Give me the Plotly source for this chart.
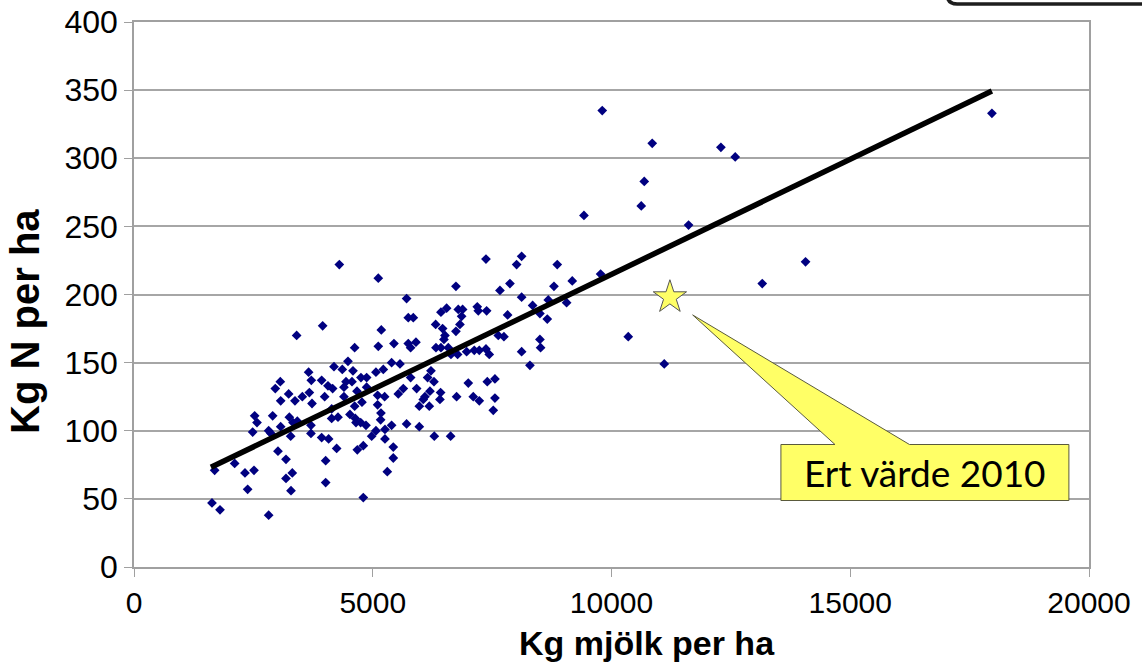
import plotly.graph_objects as go

# Farm data: kg milk per ha (x) and kg N per ha (y)
milk_kg = [
    4300, 5116, 3951, 3406, 5179, 5116, 4621, 4481, 4188, 4362, 4586, 3657, 5067, 5221,
    3064, 2959, 3713, 3930, 4062, 4160, 4440, 4565, 4753, 4872, 4397, 3239, 3072, 3371,
    3525, 3672, 3728, 3993, 4397, 4670, 4872, 5102, 5102, 5249, 4621, 4774, 2527, 2576,
    2904, 3253, 3330, 3420, 3072, 2485, 2820, 2869, 3281, 3706, 3706, 4139, 4272, 4523,
    4635, 4649, 4747, 4858, 5067, 4977, 5165, 5256, 3930, 4076, 4244, 4677, 4802, 3015,
    3183, 4014, 2108, 2324, 2513, 1689, 3315, 3183, 2380, 3288, 4014, 5305, 4802, 1633,
    1801, 2820, 4140,
    7371, 8118, 8013, 8864, 6742, 7873, 7664, 8795, 9178, 5709, 8118, 8348, 8676, 9060,
    6547, 6428, 6791, 6882, 7189, 7210, 7385, 7824, 8501, 8655, 5744, 5849, 6317, 6861,
    6826, 6742, 6463, 6512, 6491, 5444, 5744, 5905, 5793, 7629, 7747, 8501, 8515, 8118,
    6324, 6428, 6582, 6638, 6777, 6966, 7126, 7231, 7371, 7440, 8292, 5395, 5570, 6219,
    5793, 6149, 6282, 5640, 5535, 5919, 6198, 6421, 7001, 7399, 7559, 6093, 6058, 6407,
    6756, 7105, 7231, 7559, 5975, 6184, 7524, 5395, 5709, 5975, 6289, 6631, 5430, 5430,
    5172, 5256,
    9806, 10853, 12291, 12591, 10686, 10623, 9423, 11614, 9772, 14064, 13157, 10351,
    11105, 17967,
]
n_kg = [
    222, 212, 177, 170, 174, 162, 161, 151, 147, 145, 144, 143, 143, 145,
    136, 131, 137, 137, 133, 131, 136, 136, 139, 139, 132, 127, 122, 122,
    125, 128, 120, 125, 125, 129, 132, 126, 119, 125, 118, 121, 111, 106,
    111, 110, 106, 107, 103, 99, 100, 98, 96, 104, 98, 109, 110, 112,
    109, 106, 106, 104, 100, 96, 108, 94, 95, 94, 87, 86, 89, 85,
    79, 78, 76, 69, 71, 71, 69, 65, 57, 56, 62, 70, 51, 47,
    42, 38, 116,
    226, 228, 222, 222, 206, 208, 203, 206, 210, 197, 198, 192, 196, 194,
    190, 187, 189, 189, 191, 188, 188, 185, 186, 182, 183, 183, 178, 184,
    178, 173, 175, 170, 167, 164, 164, 165, 161, 170, 169, 167, 161, 158,
    161, 161, 161, 156, 156, 158, 159, 159, 160, 156, 148, 150, 149, 144,
    139, 139, 136, 131, 127, 131, 129, 128, 135, 136, 138, 125, 123, 123,
    125, 125, 122, 124, 118, 118, 115, 104, 105, 103, 96, 96, 88, 80,
    113, 101,
    335, 311, 308, 301, 283, 265, 258, 251, 215, 224, 208, 169,
    149, 333,
]

# Linear trend line (end points)
trend_milk = [1612, 17966]
trend_n = [73.2, 349.3]

# Your own value 2010
own_milk = [11223]
own_n = [198]
own_label = "Ert värde 2010"

x_ticks = [0, 5000, 10000, 15000, 20000]
y_ticks = [0, 50, 100, 150, 200, 250, 300, 350, 400]

fig = go.Figure()
fig.add_trace(go.Scatter(
    x=milk_kg, y=n_kg, mode="markers",
    marker=dict(symbol="diamond", size=7.5, color="#000080"),
    showlegend=False,
))
fig.add_trace(go.Scatter(
    x=trend_milk, y=trend_n, mode="lines",
    line=dict(color="black", width=5.5), showlegend=False,
))
fig.add_trace(go.Scatter(
    x=own_milk, y=own_n, mode="markers",
    marker=dict(symbol="star", size=25, color="#FFFF66",
                line=dict(color="#555555", width=1)),
    showlegend=False,
))

# Callout (box + wedge pointing to the star), data coordinates
bx0, bx1, by0, by1 = 13548, 19579, 48.8, 89.9
wl, wr = 14680, 16240
tipx, tipy = 11700, 185
callout_path = (f"M {bx0},{by1} L {wl},{by1} L {tipx},{tipy} L {wr},{by1} "
                f"L {bx1},{by1} L {bx1},{by0} L {bx0},{by0} Z")
fig.add_shape(type="path", path=callout_path, xref="x", yref="y",
              fillcolor="#FFFF66", line=dict(color="#5A5A3C", width=1), layer="above")
fig.add_annotation(x=(bx0 + bx1) / 2, y=(by0 + by1) / 2, xref="x", yref="y",
                   text=own_label, showarrow=False,
                   font=dict(family="Lato", size=37, color="black"))

# Partially visible rounded box at top right (paper coordinates)
fig.add_shape(type="path", xref="paper", yref="paper",
              path="M 0.8513,1.2 L 0.8513,1.052 Q 0.8513,1.033 0.862,1.033 L 1.1,1.033 L 1.1,1.2 Z",
              line=dict(color="#1E1E1E", width=3.5), fillcolor="white")

# Axis titles
fig.add_annotation(x=0.537, y=-0.14, xref="paper", yref="paper",
                   text="<b>Kg mjölk per ha</b>", showarrow=False,
                   yanchor="middle",
                   font=dict(family="Liberation Sans", size=34, color="black"))
fig.add_annotation(x=-0.114, y=0.45, xref="paper", yref="paper",
                   text="<b>Kg N per ha</b>", showarrow=False, textangle=-90,
                   xanchor="center", yanchor="middle",
                   font=dict(family="Liberation Sans", size=40, color="black"))

fig.update_layout(
    width=1142, height=671,
    margin=dict(l=134, r=53, t=22, b=104),
    paper_bgcolor="white", plot_bgcolor="white",
    xaxis=dict(
        range=[0, 20000], tickvals=x_ticks, ticktext=[str(v) for v in x_ticks],
        showgrid=False, zeroline=False, automargin=False,
        ticklabeloverflow="allow",
        showline=True, linecolor="#A0A0A0", linewidth=1.5, mirror=True,
        ticks="outside", ticklen=8, tickcolor="#A0A0A0",
        tickfont=dict(family="Liberation Sans", size=30, color="black"),
    ),
    yaxis=dict(
        range=[0, 400], tickvals=y_ticks, ticktext=[str(v) for v in y_ticks],
        showgrid=True, gridcolor="#A6A6A6", gridwidth=1.5, zeroline=False,
        automargin=False, ticklabeloverflow="allow",
        showline=True, linecolor="#A0A0A0", linewidth=1.5, mirror=True,
        ticks="outside", ticklen=8, tickcolor="#A0A0A0",
        tickfont=dict(family="Liberation Sans", size=32, color="black"),
    ),
)

fig.write_html("out.html", config={"displayModeBar": False},
               post_script="document.body.style.margin='0';document.body.style.overflow='hidden';")
